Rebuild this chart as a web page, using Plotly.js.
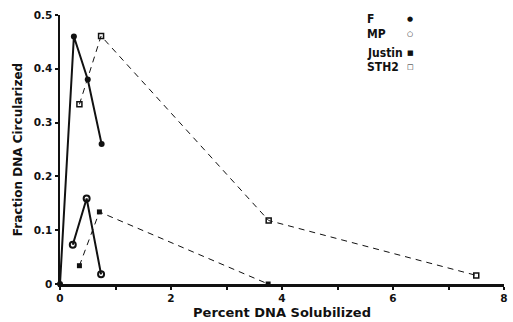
<!DOCTYPE html>
<html><head><meta charset="utf-8">
<script src="https://cdn.plot.ly/plotly-3.0.1.min.js"></script>
<style>body{margin:0;background:#fff}#c{width:513px;height:322px}</style>
</head><body><div id="c"></div>
<script>
const fX = [0, 0.25, 0.5, 0.75];
const fY = [0, 0.46, 0.38, 0.26];
const mpX = [0.23, 0.48, 0.74];
const mpY = [0.073, 0.159, 0.018];
const justinX = [0.35, 0.71, 3.75];
const justinY = [0.034, 0.134, 0.0];
const sth2X = [0.35, 0.74, 3.76, 7.5];
const sth2Y = [0.334, 0.461, 0.118, 0.016];
const legendNames = ['F', 'MP', 'Justin', 'STH2'];
const legendGlyphs = ['●', '○', '■', '□'];

const traces = [
  {x: fX, y: fY, mode: 'lines+markers', name: 'F', cliponaxis: false,
   line: {color: '#111', width: 2}, marker: {symbol: 'circle', size: 6, color: '#111'}},
  {x: mpX, y: mpY, mode: 'lines+markers', name: 'MP', cliponaxis: false,
   line: {color: '#111', width: 2}, marker: {symbol: 'circle-open', size: 6, color: '#111', line: {width: 2}}},
  {x: justinX, y: justinY, mode: 'lines+markers', name: 'Justin', cliponaxis: false,
   line: {color: '#111', width: 1, dash: '6px,5px'}, marker: {symbol: 'square', size: 5, color: '#111'}},
  {x: sth2X, y: sth2Y, mode: 'lines+markers', name: 'STH2', cliponaxis: false,
   line: {color: '#111', width: 1, dash: '6px,5px'}, marker: {symbol: 'square-open', size: 5, color: '#111', line: {width: 1.5}}}
];

const ann = [];
const ys = [0.985, 0.93, 0.86, 0.805];
legendNames.forEach((n, i) => {
  ann.push({xref: 'paper', yref: 'paper', x: (365 - 60) / 444, y: ys[i], xanchor: 'left', yanchor: 'middle',
    text: n, showarrow: false, font: {family: 'Liberation Sans Narrow, DejaVu Sans Condensed', size: 12, color: '#111', weight: 'bold'}});
  ann.push({xref: 'paper', yref: 'paper', x: (410 - 60) / 444, y: ys[i], xanchor: 'center', yanchor: 'middle',
    text: legendGlyphs[i], showarrow: false, font: {family: 'DejaVu Sans', size: 7, color: '#111'}});
});

const layout = {
  width: 513, height: 322,
  margin: {l: 60, r: 9, t: 15, b: 38},
  paper_bgcolor: '#fff', plot_bgcolor: '#fff',
  showlegend: false,
  font: {family: 'DejaVu Sans', color: '#111'},
  xaxis: {range: [0, 8], tickvals: [0, 2, 4, 6, 8], showgrid: false, zeroline: false,
    showline: true, linewidth: 2.5, linecolor: '#111', ticks: 'outside', ticklen: 3, tickwidth: 2, tickcolor: '#111',
    minor: {tickvals: [1, 3, 5, 7], ticks: 'outside', ticklen: 3, tickwidth: 2, tickcolor: '#111'},
    tickfont: {size: 10.5, weight: 'bold'},
    title: {text: 'Percent DNA Solubilized', font: {size: 13, weight: 'bold'}, standoff: 5}},
  yaxis: {range: [0, 0.5], tickvals: [0, 0.1, 0.2, 0.3, 0.4, 0.5], showgrid: false, zeroline: false,
    showline: true, linewidth: 2.5, linecolor: '#111', ticks: 'outside', ticklen: 3, tickwidth: 2, tickcolor: '#111',
    tickfont: {size: 10.5, weight: 'bold'},
    title: {text: 'Fraction DNA Circularized', font: {size: 12, weight: 'bold'}, standoff: 9}},
  annotations: ann
};
Plotly.newPlot('c', traces, layout, {staticPlot: true});
</script></body></html>
